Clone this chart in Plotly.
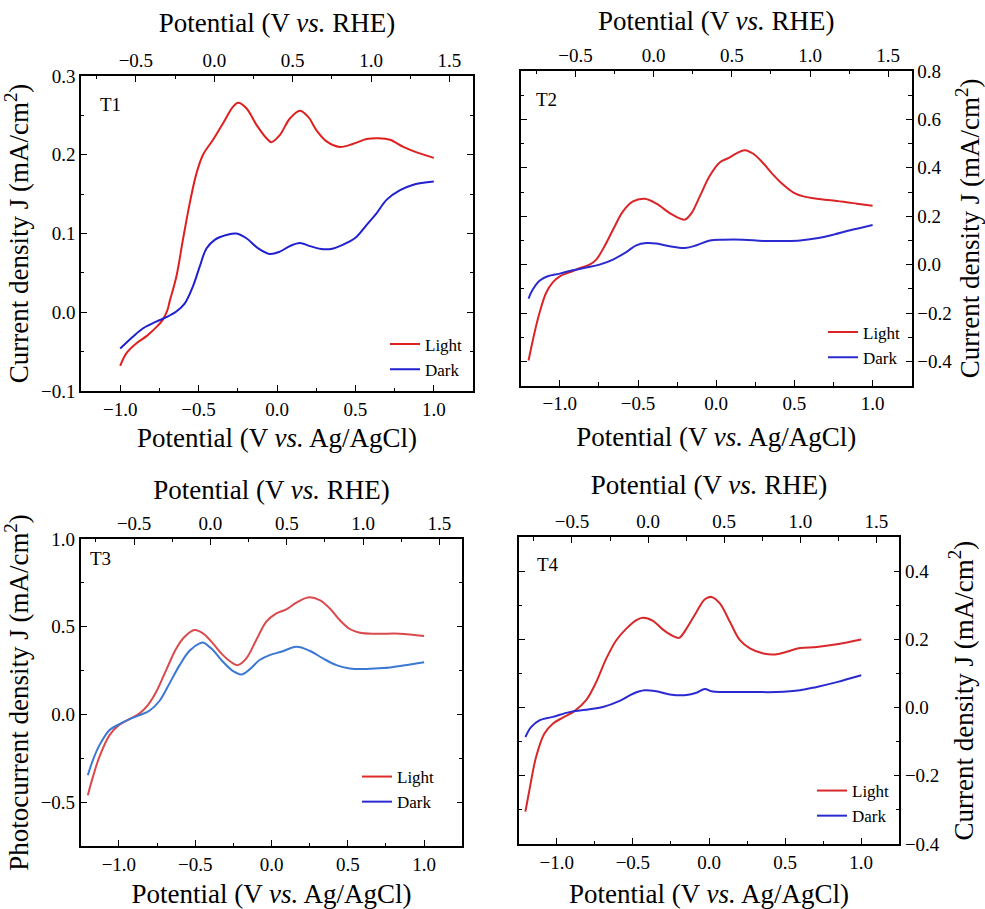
import plotly.graph_objects as go

FONT = "Liberation Serif, Times New Roman, serif"
RHE_OFFSET = 0.40  # V vs RHE = V vs Ag/AgCl + offset

# ---------------- data ----------------
# T1
t1_light_v = [-1.0, -0.96, -0.90, -0.83, -0.76, -0.73, -0.70, -0.685, -0.642, -0.60, -0.557, -0.514,
              -0.472, -0.408, -0.344, -0.28, -0.248, -0.195, -0.131, -0.067, -0.035, 0.018, 0.082,
              0.146, 0.199, 0.252, 0.316, 0.401, 0.487, 0.572, 0.646, 0.721, 0.806, 0.891, 1.0]
t1_light_j = [-0.068, -0.052, -0.040, -0.030, -0.017, -0.010, 0.002, 0.0135, 0.045, 0.092, 0.138, 0.176,
              0.200, 0.219, 0.240, 0.261, 0.266, 0.259, 0.238, 0.221, 0.216, 0.225, 0.246,
              0.256, 0.248, 0.231, 0.217, 0.210, 0.214, 0.220, 0.221, 0.219, 0.210, 0.203, 0.196]
t1_dark_v = [-1.0, -0.919, -0.851, -0.77, -0.706, -0.642, -0.589, -0.536, -0.493, -0.45, -0.397,
             -0.323, -0.259, -0.195, -0.12, -0.046, 0.018, 0.082, 0.146, 0.21, 0.295, 0.359, 0.444,
             0.508, 0.572, 0.636, 0.70, 0.785, 0.87, 1.0]
t1_dark_j = [-0.046, -0.031, -0.020, -0.012, -0.0063, 0.001, 0.011, 0.033, 0.058, 0.081, 0.092,
             0.098, 0.100, 0.094, 0.081, 0.074, 0.077, 0.084, 0.088, 0.084, 0.080, 0.081, 0.088,
             0.096, 0.111, 0.126, 0.143, 0.155, 0.162, 0.166]

# T2
t2_light_v = [-1.2, -1.162, -1.13, -1.088, -1.045, -1.0, -0.938, -0.874, -0.81, -0.767, -0.714, -0.66,
              -0.596, -0.532, -0.457, -0.382, -0.297, -0.233, -0.20, -0.158, -0.105, -0.041, 0.024,
              0.077, 0.13, 0.184, 0.237, 0.301, 0.365, 0.429, 0.494, 0.558, 0.643, 0.771, 0.90, 1.0]
t2_light_j = [-0.396, -0.282, -0.20, -0.117, -0.073, -0.048, -0.032, -0.015, 0.0, 0.021, 0.076, 0.144,
              0.220, 0.261, 0.272, 0.252, 0.213, 0.191, 0.186, 0.213, 0.282, 0.367, 0.423,
              0.440, 0.460, 0.473, 0.458, 0.419, 0.371, 0.330, 0.298, 0.282, 0.272, 0.263, 0.252, 0.243]
t2_dark_v = [-1.2, -1.173, -1.13, -1.077, -1.0, -0.917, -0.831, -0.746, -0.66, -0.575, -0.511, -0.447,
             -0.382, -0.297, -0.20, -0.126, -0.041, 0.045, 0.173, 0.301, 0.429, 0.536, 0.643, 0.75,
             0.857, 1.0]
t2_dark_j = [-0.140, -0.103, -0.066, -0.048, -0.037, -0.023, -0.012, 0.0, 0.021, 0.052, 0.080, 0.089,
             0.087, 0.076, 0.069, 0.080, 0.100, 0.103, 0.103, 0.098, 0.098, 0.100, 0.109, 0.124,
             0.142, 0.164]

# T3
t3_light_v = [-1.203, -1.17, -1.127, -1.061, -1.0, -0.93, -0.864, -0.81, -0.755, -0.69, -0.624, -0.569,
              -0.504, -0.449, -0.384, -0.318, -0.252, -0.22, -0.165, -0.10, -0.034, 0.032, 0.097,
              0.163, 0.239, 0.316, 0.381, 0.447, 0.513, 0.578, 0.687, 0.84, 1.0]
t3_light_j = [-0.46, -0.356, -0.241, -0.118, -0.061, -0.027, 0.006, 0.053, 0.129, 0.253, 0.376, 0.443,
              0.481, 0.462, 0.405, 0.338, 0.291, 0.281, 0.319, 0.424, 0.529, 0.576, 0.599,
              0.637, 0.667, 0.652, 0.605, 0.538, 0.487, 0.466, 0.460, 0.460, 0.447]
t3_dark_v = [-1.203, -1.17, -1.127, -1.061, -1.0, -0.93, -0.864, -0.80, -0.733, -0.668, -0.602, -0.537,
             -0.471, -0.445, -0.384, -0.318, -0.252, -0.198, -0.143, -0.078, -0.012, 0.064, 0.163,
             0.25, 0.338, 0.425, 0.513, 0.622, 0.731, 0.862, 1.0]
t3_dark_j = [-0.346, -0.26, -0.175, -0.089, -0.057, -0.027, -0.004, 0.021, 0.078, 0.177, 0.281, 0.363,
             0.405, 0.409, 0.367, 0.300, 0.247, 0.228, 0.257, 0.310, 0.338, 0.357, 0.386,
             0.363, 0.319, 0.281, 0.262, 0.259, 0.264, 0.279, 0.298]

# T4
t4_light_v = [-1.206, -1.18, -1.136, -1.081, -1.026, -0.96, -0.884, -0.807, -0.741, -0.675, -0.609,
              -0.543, -0.477, -0.434, -0.368, -0.302, -0.236, -0.196, -0.148, -0.082, -0.027, 0.016,
              0.071, 0.137, 0.203, 0.269, 0.357, 0.434, 0.51, 0.598, 0.708, 0.84, 1.0]
t4_light_j = [-0.305, -0.243, -0.145, -0.076, -0.047, -0.029, -0.010, 0.022, 0.075, 0.144, 0.198,
              0.232, 0.257, 0.264, 0.255, 0.229, 0.210, 0.205, 0.232, 0.281, 0.318, 0.325,
              0.306, 0.252, 0.198, 0.174, 0.159, 0.156, 0.164, 0.175, 0.178, 0.186, 0.200]
t4_dark_v = [-1.206, -1.169, -1.114, -1.026, -0.917, -0.807, -0.697, -0.587, -0.499, -0.423, -0.346,
             -0.258, -0.148, -0.082, -0.027, 0.016, 0.093, 0.269, 0.444, 0.598, 0.708, 0.84, 1.0]
t4_dark_j = [-0.086, -0.057, -0.037, -0.027, -0.013, -0.006, 0.002, 0.020, 0.041, 0.051, 0.048,
             0.039, 0.037, 0.044, 0.055, 0.048, 0.046, 0.046, 0.046, 0.051, 0.061, 0.075, 0.095]

series_names = ["Light", "Dark"]

panels = [
    dict(label="T1", light=(t1_light_v, t1_light_j), dark=(t1_dark_v, t1_dark_j),
         colors=("#e0201f", "#2020d0"), legend_colors=("#e0201f", "#2020d0"),
         yrange=[-0.1, 0.3], ydtick=0.1, yminor=0.05, yside="left",
         ytitle="Current density J (mA/cm<sup>2</sup>)",
         xdom=[81, 473], ydom=[76, 391], tag=(0.043, 0.908),
         leg=(468, 387.5), so=(9, 10, 7)),
    dict(label="T2", light=(t2_light_v, t2_light_j), dark=(t2_dark_v, t2_dark_j),
         colors=("#da2428", "#2a2ad0"), legend_colors=("#da2428", "#2a2ad0"),
         yrange=[-0.5, 0.8], ydtick=0.2, yminor=0.1, yside="right",
         ytitle="Current density J (mA/cm<sup>2</sup>)",
         xdom=[520.7, 911.7], ydom=[71, 385.7], tag=(0.033, 0.911),
         leg=(906, 375.5), so=(6, 14, 14)),
    dict(label="T3", light=(t3_light_v, t3_light_j), dark=(t3_dark_v, t3_dark_j),
         colors=("#da4a4d", "#3a78d4"), legend_colors=("#e02a2c", "#2a2ad0"),
         yrange=[-0.75, 1.0], ydtick=0.5, yminor=0.25, yside="left",
         ytitle="Photocurrent density J (mA/cm<sup>2</sup>)",
         xdom=[80.7, 462.3], ydom=[539, 846], tag=(0.019, 0.938),
         leg=(440, 820), so=(5, 15, 4)),
    dict(label="T4", light=(t4_light_v, t4_light_j), dark=(t4_dark_v, t4_dark_j),
         colors=("#d8282a", "#2a2ad0"), legend_colors=("#d8282a", "#2a2ad0"),
         yrange=[-0.4, 0.5], ydtick=0.2, yminor=0.1, yside="right",
         ytitle="Current density J (mA/cm<sup>2</sup>)",
         xdom=[518.7, 899.3], ydom=[537.3, 844], tag=(0.042, 0.91),
         leg=(895, 834), so=(8, 14, 15)),
]


def ax_id(letter, n):
    return letter if n == 1 else f"{letter}{n}"


W, H = 985, 909
TITLE_SIZE = 27
TICK_SIZE = 19
fig = go.Figure()
layout = dict(width=W, height=H, margin=dict(l=0, r=0, t=0, b=0, autoexpand=False),
              template="none",
              paper_bgcolor="white", plot_bgcolor="white",
              font=dict(family=FONT, size=18, color="black"), annotations=[])

axis_common = dict(showgrid=False, zeroline=False, showline=True, linecolor="black", linewidth=1.6,
                   ticks="inside", ticklen=6, tickwidth=1.4, tickcolor="black", automargin=False,
                   tickfont=dict(family=FONT, size=TICK_SIZE, color="black"),
                   tickformat=".1f")
minor_common = dict(ticks="inside", ticklen=3.5, tick0=0, tickwidth=1.2, tickcolor="black")

for k, p in enumerate(panels):
    bx = 2 * k + 1
    tx = 2 * k + 2
    yi = k + 1
    leg = "legend" if k == 0 else f"legend{k + 1}"
    xd = [p["xdom"][0] / W, p["xdom"][1] / W]
    yd = [1 - p["ydom"][1] / H, 1 - p["ydom"][0] / H]
    so_top, so_bot, so_y = p["so"]

    for name, key, col, lcol in zip(series_names, ("light", "dark"), p["colors"], p["legend_colors"]):
        v, j = p[key]
        fig.add_trace(go.Scatter(x=v, y=j, mode="lines", name=name,
                                 line=dict(color=col, width=2, shape="spline", smoothing=1.0),
                                 xaxis=ax_id("x", bx), yaxis=ax_id("y", yi), showlegend=False))
        # legend entry (the reference legend swatches use their own colours)
        fig.add_trace(go.Scatter(x=[None], y=[None], mode="lines", name=name,
                                 line=dict(color=lcol, width=2),
                                 xaxis=ax_id("x", bx), yaxis=ax_id("y", yi), legend=leg,
                                 showlegend=True, hoverinfo="skip"))

    layout[ax_id("xaxis", bx)] = dict(axis_common, domain=xd, anchor=ax_id("y", yi), side="bottom",
                                      range=[-1.25, 1.25], dtick=0.5, tick0=0, mirror=True,
                                      minor=dict(minor_common, dtick=0.25),
                                      title=dict(text="Potential (V <i>vs.</i> Ag/AgCl)",
                                                 font=dict(family=FONT, size=TITLE_SIZE), standoff=so_bot))
    layout[ax_id("xaxis", tx)] = dict(axis_common, domain=xd, anchor=ax_id("y", yi), side="top",
                                      overlaying=ax_id("x", bx),
                                      range=[-1.25 + RHE_OFFSET, 1.25 + RHE_OFFSET], dtick=0.5, tick0=0,
                                      minor=dict(minor_common, dtick=0.25),
                                      title=dict(text="Potential (V <i>vs.</i> RHE)",
                                                 font=dict(family=FONT, size=TITLE_SIZE), standoff=so_top))
    layout[ax_id("yaxis", yi)] = dict(axis_common, domain=yd, anchor=ax_id("x", bx), side=p["yside"],
                                      range=p["yrange"], dtick=p["ydtick"], tick0=0, mirror="ticks",
                                      minor=dict(minor_common, dtick=p["yminor"]),
                                      title=dict(text=p["ytitle"], font=dict(family=FONT, size=TITLE_SIZE),
                                                 standoff=so_y))
    layout[leg] = dict(x=p["leg"][0] / W, y=1 - p["leg"][1] / H, xanchor="right", yanchor="bottom",
                       bgcolor="rgba(0,0,0,0)", borderwidth=0,
                       font=dict(family=FONT, size=17, color="black"), tracegroupgap=0)
    layout["annotations"].append(dict(text=p["label"], xref=ax_id("x", bx) + " domain",
                                      yref=ax_id("y", yi) + " domain",
                                      x=p["tag"][0], y=p["tag"][1], xanchor="left", yanchor="middle",
                                      showarrow=False, font=dict(family=FONT, size=19, color="black")))

# dummy traces so the top (RHE) axes are rendered
for k in range(4):
    fig.add_trace(go.Scatter(x=[None], y=[None], xaxis=ax_id("x", 2 * k + 2), yaxis=ax_id("y", k + 1),
                             showlegend=False, hoverinfo="skip"))

fig.update_layout(**layout)
fig.write_html("out.html")
